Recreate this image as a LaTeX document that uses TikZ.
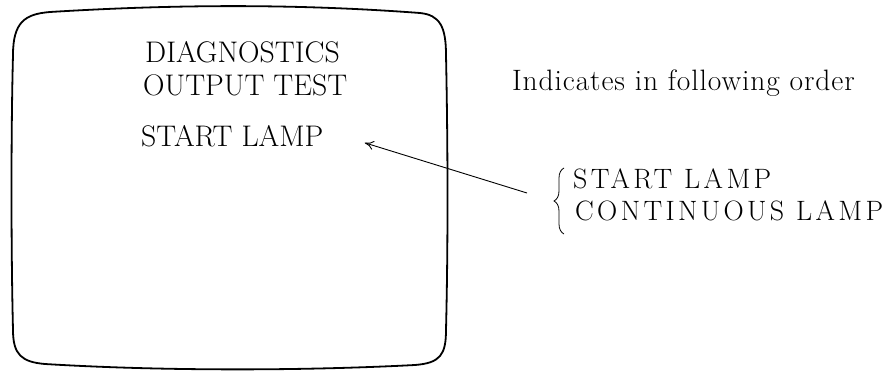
\documentclass[tikz,border=0pt]{standalone}
\usepackage{fontspec}
\newfontfamily\spacedfont[LetterSpace=12]{Latin Modern Roman}
\newfontfamily\widefont[LetterSpace=3]{Latin Modern Roman}
\usetikzlibrary{arrows.meta, positioning, decorations.pathreplacing}

\begin{document}
\begin{tikzpicture}[x=1pt, y=-1pt, >={To[length=9pt, width=9pt]},
    screen_text/.style ={font=\fontsize{29.8}{34}\selectfont, inner sep=2pt, anchor=base west},
    order_text/.style ={font=\widefont\fontsize{29.5}{34}\selectfont, inner sep=2pt, anchor=base west},
    side_text/.style ={font=\spacedfont\fontsize{28}{32}\selectfont, inner sep=2pt, anchor=base west}]
    \useasboundingbox (0,0) rectangle (884,372);
    % screen outline
    \draw[line width=1.8pt] (13,55) .. controls (13,22) and (25,14) .. (50,12)
        .. controls (180,4) and (300,4) .. (420,13)
        .. controls (440,15) and (446,27) .. (446,55)
        .. controls (448,150) and (448,250) .. (446,330)
        .. controls (446,355) and (440,363) .. (415,365)
        .. controls (300,371) and (160,371) .. (45,364)
        .. controls (22,362) and (13,355) .. (13,330)
        .. controls (11,250) and (11,130) .. (13,55) -- cycle;
    \node[screen_text] (diag) at (143,62) {DIAGNOSTICS};
    \node[screen_text] (output) at (141,95) {OUTPUT TEST};
    \node[screen_text] (lamp) at (139,146) {START LAMP};
    \node[order_text] (order) at (510,90) {Indicates in following order};
    \node[side_text] (first) at (571,188) {START LAMP};
    \node[side_text] (second) at (573,220) {CONTINUOUS LAMP};
    \draw[decorate, decoration={brace, amplitude=10pt}, line width=0.8pt] (564,234) -- (564,168);
    \coordinate (tail) at (527,193);
    \draw[->, line width=0.9pt, shorten >=41pt] (tail) -- ([yshift=5pt]lamp.east);
\end{tikzpicture}
\end{document}
